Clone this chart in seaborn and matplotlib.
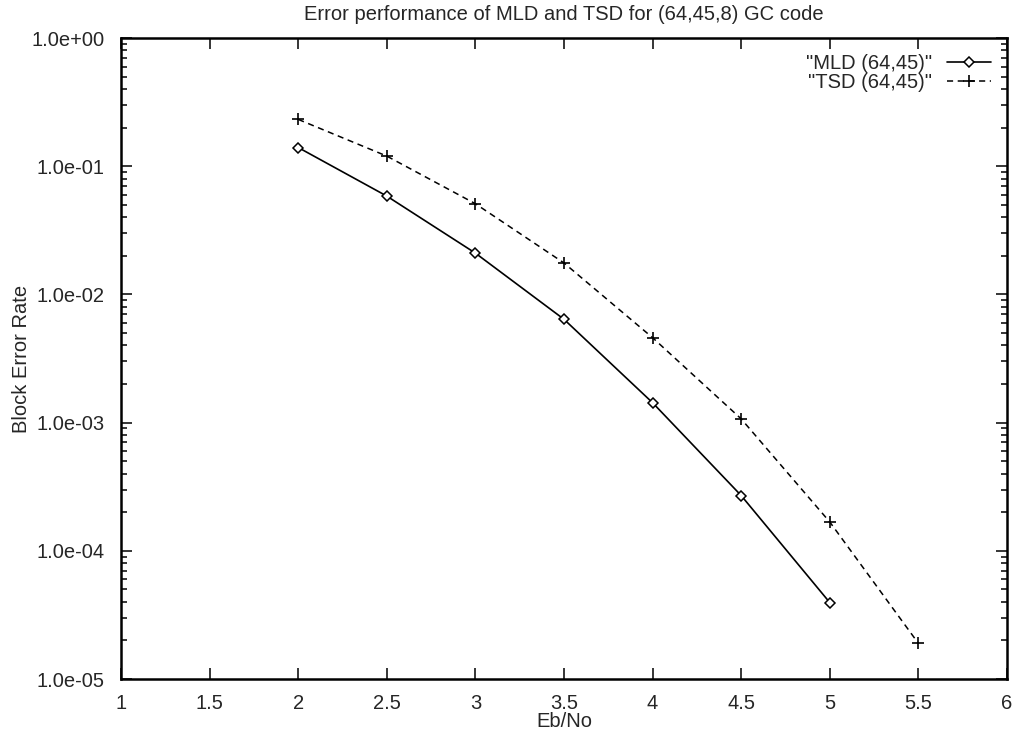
import matplotlib
matplotlib.use("Agg")
import matplotlib.pyplot as plt
import matplotlib.ticker as mticker
import seaborn as sns

ebno_mld = [2.0, 2.5, 3.0, 3.5, 4.0, 4.5, 5.0]
ber_mld = [0.140, 0.0585, 0.0210, 0.0064, 0.00143, 0.00027, 3.95e-5]

ebno_tsd = [2.0, 2.5, 3.0, 3.5, 4.0, 4.5, 5.0, 5.5]
ber_tsd = [0.232, 0.120, 0.051, 0.0176, 0.0046, 0.00107, 1.68e-4, 1.9e-5]

x_ticks = [1, 1.5, 2, 2.5, 3, 3.5, 4, 4.5, 5, 5.5, 6]
x_tick_labels = ["1", "1.5", "2", "2.5", "3", "3.5", "4", "4.5", "5", "5.5", "6"]
y_ticks = [1e-5, 1e-4, 1e-3, 1e-2, 1e-1, 1e0]
y_tick_labels = ["1.0e-05", "1.0e-04", "1.0e-03", "1.0e-02", "1.0e-01", "1.0e+00"]

sns.set_style("ticks")
plt.rcParams['font.family'] = ['Liberation Sans', 'DejaVu Sans']
fs = 14.5

fig = plt.figure(figsize=(10.13, 7.32), dpi=100)
ax = fig.add_axes([0.1195, 0.0724, 0.8745, 0.8756])

# MLD: solid line with open diamonds
sns.lineplot(x=ebno_mld, y=ber_mld, color="black", linewidth=1.2,
             marker="D", markersize=5.5, markerfacecolor="white",
             markeredgecolor="black", markeredgewidth=1.1,
             label='"MLD (64,45)"', ax=ax)
# TSD: dashed line with plus markers
sns.lineplot(x=ebno_tsd, y=ber_tsd, color="black", linewidth=1.1,
             linestyle=(0, (4, 3)), marker="+", markersize=9,
             markeredgecolor="black", markeredgewidth=1.2,
             label='"TSD (64,45)"', ax=ax)

ax.set_yscale("log")
ax.set_xlim(1, 6)
ax.set_ylim(1e-5, 1e0)
ax.set_xticks(x_ticks)
ax.set_xticklabels(x_tick_labels)
ax.set_yticks(y_ticks)
ax.set_yticklabels(y_tick_labels)
ax.yaxis.set_minor_locator(mticker.LogLocator(base=10, subs=[2, 3, 4, 5, 6, 7, 8, 9]))
ax.yaxis.set_minor_formatter(mticker.NullFormatter())
ax.tick_params(which="both", direction="in", top=True, right=True, labelsize=fs, width=1.3)
ax.tick_params(which="major", length=8)
ax.tick_params(which="minor", length=4)
ax.tick_params(axis="y", which="major", pad=12)
ax.tick_params(axis="x", which="major", pad=11)
for s in ax.spines.values():
    s.set_linewidth(1.8)
    s.set_color("black")

ax.set_title("Error performance of MLD and TSD for (64,45,8) GC code", fontsize=fs, pad=13)
ax.set_xlabel("Eb/No", fontsize=fs, labelpad=-1)
ax.set_ylabel("Block Error Rate", fontsize=fs, labelpad=0)

leg = ax.legend(loc="upper right", frameon=False, fontsize=fs, markerfirst=False,
                handlelength=2.2, handletextpad=0.7, borderaxespad=0.4,
                borderpad=0.4, labelspacing=0.0)

fig.savefig("out.png", dpi=100)
